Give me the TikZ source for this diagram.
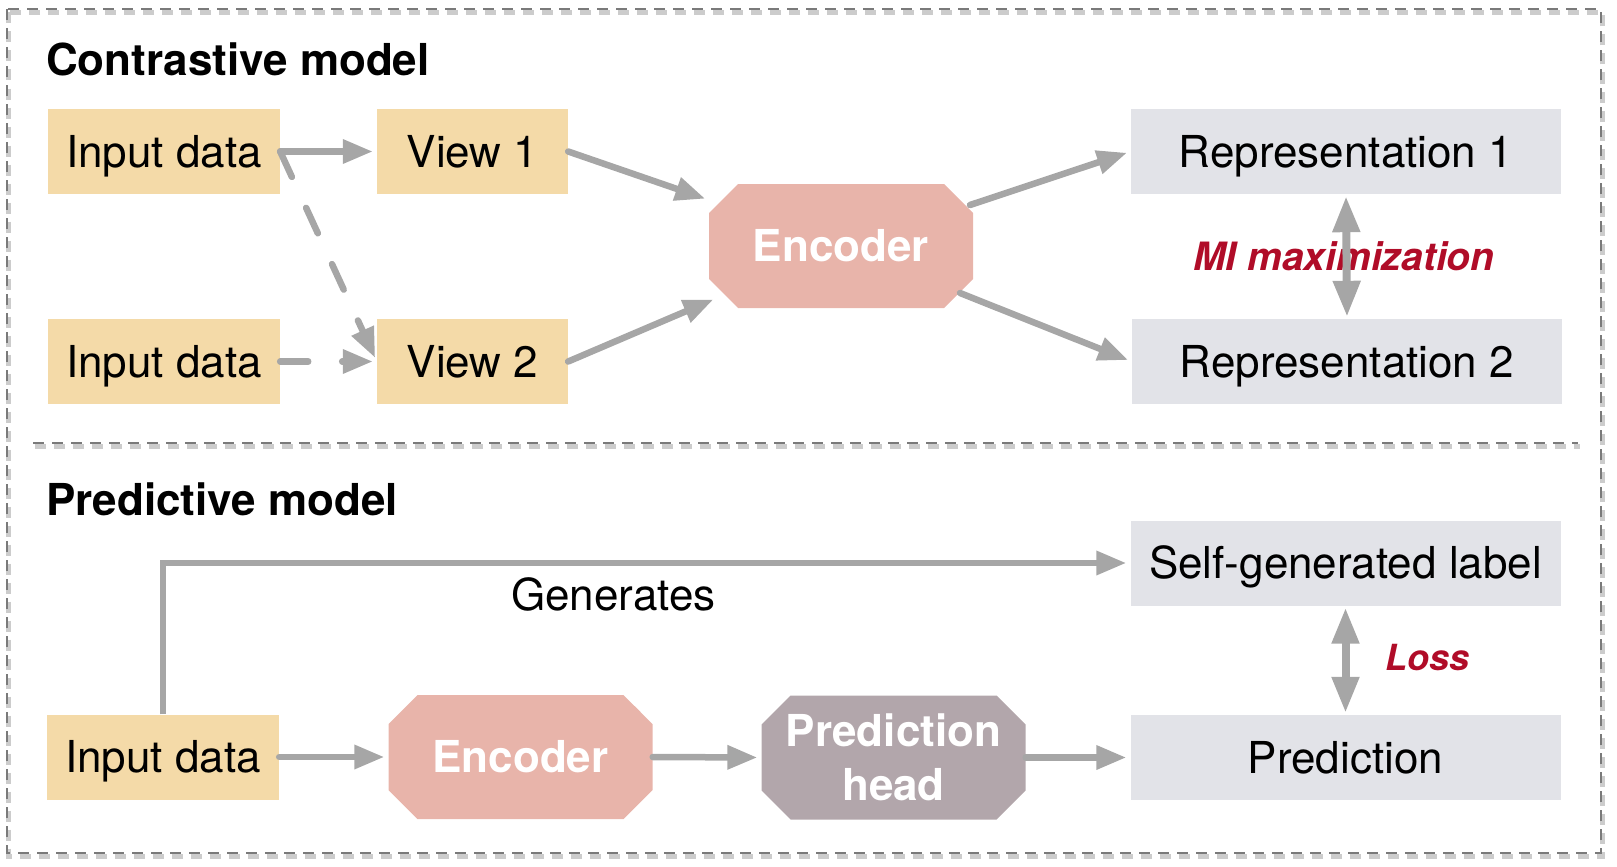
\documentclass[tikz,border=0pt]{standalone}
\usepackage{fontspec}
\setmainfont{TeX Gyre Heros}
\usetikzlibrary{arrows.meta,shapes.misc,calc}
\definecolor{cTan}{RGB}{244,218,168}
\definecolor{cRep}{RGB}{226,227,232}
\definecolor{cEnc}{RGB}{232,180,170}
\definecolor{cHead}{RGB}{178,166,171}
\definecolor{cArr}{RGB}{166,166,166}
\definecolor{cRed}{RGB}{176,12,40}
\definecolor{cBorder}{RGB}{122,122,122}
\begin{document}
\begin{tikzpicture}[x=1pt,y=-1pt,
  every node/.style={font=\fontsize{44}{54}\selectfont, inner sep=0pt},
  tanbox/.style={fill=cTan, minimum height=85pt, text height=31.5pt, text depth=0pt},
  repbox/.style={fill=cRep, minimum width=430pt, minimum height=85pt, text height=31.5pt, text depth=0pt},
  encbox/.style={chamfered rectangle, chamfered rectangle xsep=15pt, chamfered rectangle ysep=14pt,
     fill=cEnc, minimum width=264pt, minimum height=124pt, text=white,
     font=\fontsize{44}{54}\selectfont\bfseries},
  onetext/.style={text height=31.5pt, text depth=0pt},
  titletext/.style={font=\fontsize{44}{54}\selectfont\bfseries},
  redlbl/.style={text=cRed, font=\fontsize{39}{46}\selectfont\bfseries\itshape},
  arr/.style={draw=cArr, line width=6.5pt, line cap=round, shorten >=4pt,
     -{Triangle[length=30pt,width=23pt]}},
  darr/.style={draw=cArr, line width=8pt, shorten >=2pt, shorten <=2pt,
     {Triangle[length=36pt,width=26pt]}-{Triangle[length=36pt,width=26pt]}},
  dashes/.style={dash pattern=on 28pt off 34pt},
  frameline/.style={draw=cBorder, line width=2.5pt, dash pattern=on 11pt off 8pt},
  frameshadow/.style={draw=black!20, line width=5pt, dash pattern=on 11pt off 8pt}
]
\useasboundingbox (0,0) rectangle (1617,867);

% frame with shadow
\begin{scope}[shift={(1.5,3.5)}]
  \draw[frameshadow] (7,9) rectangle (1601,853);
  \draw[frameshadow] (33,443) -- (1578,443);
\end{scope}
\draw[frameline] (7,9) rectangle (1601,853);
\draw[frameline] (33,443) -- (1578,443);

% titles
\node[titletext, anchor=base west] (t1) at (46,76) {Contrastive model};
\node[titletext, anchor=base west] (t2) at (46,515) {Predictive model};

% contrastive model
\node[tanbox, minimum width=232pt] (in1) at (164,151.5) {Input data};
\node[tanbox, minimum width=191pt] (v1) at (472.5,151.5) {View 1};
\node[tanbox, minimum width=232pt] (in2) at (164,361.5) {Input data};
\node[tanbox, minimum width=191pt] (v2) at (472.5,361.5) {View 2};
\node[encbox, onetext] (enc1) at (841,246) {Encoder};
\node[repbox] (r1) at (1346,151.5) {Representation 1};
\node[repbox] (r2) at (1347,361.5) {Representation 2};
\node[redlbl, anchor=base] (mi) at (1344,270) {MI maximization};

\draw[arr] (in1.east) -- (v1.west);
\draw[arr, dashes] (in1.east) -- (v2.west);
\draw[arr, dashes] (in2.east) -- (v2.west);
\draw[arr] (v1.east) -- ($(enc1.center)+(-132,-46)$);
\draw[arr] (v2.east) -- ($(enc1.center)+(-124,52)$);
\draw[arr] ($(enc1.center)+(129,-41)$) -- (r1.west);
\draw[arr] ($(enc1.center)+(119,47)$) -- (r2.west);
\draw[darr] (r1.south) -- (r2.north);

% predictive model
\node[tanbox, minimum width=232pt] (in3) at (163,757) {Input data};
\node[encbox, onetext] (enc2) at (520.5,757) {Encoder};
\node[encbox, fill=cHead, align=center] (head) at (893.5,757.5) {Prediction\\head};
\node[repbox] (sg) at (1345.5,563) {Self-generated label};
\node[repbox] (pred) at (1345.5,757.5) {Prediction};
\node[anchor=base] (gen) at (613.5,610) {Generates};
\node[redlbl, font=\fontsize{36}{44}\selectfont\bfseries\itshape, anchor=base west] (loss) at (1385,670) {Loss};

\draw[arr, line cap=butt] (in3.north) |- (sg.west);
\draw[arr] (in3.east) -- (enc2.west);
\draw[arr] (enc2.east) -- (head.west);
\draw[arr] (head.east) -- (pred.west);
\draw[darr] (sg.south) -- (pred.north);
\end{tikzpicture}
\end{document}
